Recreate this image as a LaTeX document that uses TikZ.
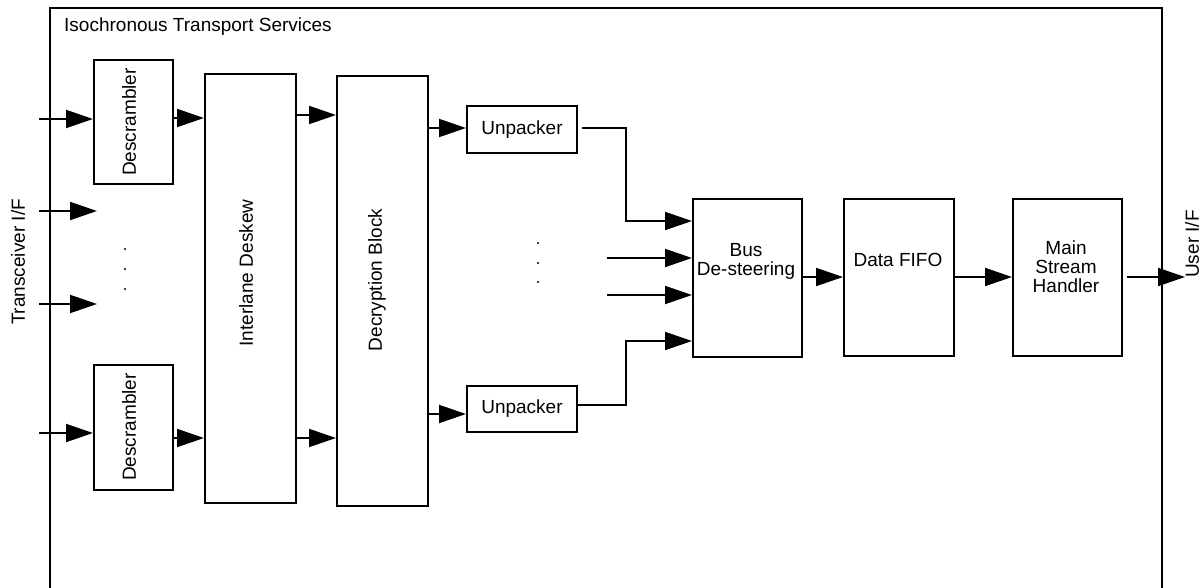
\documentclass[tikz,border=0pt]{standalone}
\usepackage{fontspec}
\setmainfont{Liberation Sans}
\usetikzlibrary{arrows.meta,calc}
\begin{document}
\begin{tikzpicture}[x=1pt,y=-1pt,
  blk/.style={draw=black, line width=1.9pt, inner sep=0pt, anchor=north west},
  lbl/.style={inner sep=0pt, font=\fontsize{19}{19}\selectfont, align=center},
  arr/.style={line width=1.9pt, -{Triangle[length=27pt,width=18pt]}},
  wire/.style={line width=1.9pt},
  dotmark/.style={fill=black, draw=none, circle, minimum size=2.4pt, inner sep=0pt}]

\useasboundingbox (0,0) rectangle (1201,588);

% enclosing service boundary (open at the bottom)
\draw[wire] (50,588) -- (50,8) -- (1162,8) -- (1162,588);
\node[lbl, anchor=west] (title) at (64,27) {Isochronous Transport Services};

% interface labels
\node[lbl, rotate=90] (tif) at (18,262) {Transceiver I/F};
\node[lbl, rotate=90] (uif) at (1192,244) {User I/F};

% processing blocks
\node[blk, minimum width=79pt, minimum height=124pt] (desA) at (93,59) {};
\node[blk, minimum width=79pt, minimum height=125pt] (desB) at (93,364) {};
\node[blk, minimum width=91pt, minimum height=429pt] (ild) at (204,73) {};
\node[blk, minimum width=91pt, minimum height=430pt] (dec) at (336,75) {};
\node[blk, minimum width=110pt, minimum height=47pt] (upA) at (466,105) {};
\node[blk, minimum width=110pt, minimum height=46pt] (upB) at (466,385) {};
\node[blk, minimum width=109pt, minimum height=158pt] (bus) at (692,198) {};
\node[blk, minimum width=110pt, minimum height=157pt] (fifo) at (843,198) {};
\node[blk, minimum width=109pt, minimum height=157pt] (msh) at (1012,198) {};

% block labels
\node[lbl, rotate=90] (desAt) at (129,122) {Descrambler};
\node[lbl, rotate=90] (desBt) at (129,427) {Descrambler};
\node[lbl, rotate=90] (ildt) at (246,273) {Interlane Deskew};
\node[lbl, rotate=90] (dect) at (377,280) {Decryption Block};
\node[lbl] (upAt) at (upA.center) {Unpacker};
\node[lbl] (upBt) at (upB.center) {Unpacker};
\node[lbl] (bust) at (746,261) {Bus\\De-steering};
\node[lbl] (fifot) at (898,260) {Data FIFO};
\node[lbl] (msht) at (1066,267) {Main\\Stream\\Handler};

% lane inputs
\coordinate (inA) at (39,119);
\coordinate (inB) at (39,211);
\coordinate (inBe) at (97,211);
\coordinate (inC) at (39,304);
\coordinate (inCe) at (97,304);
\coordinate (inD) at (39,433);
\draw[arr] (inA) -- (desA.west |- inA);
\draw[arr] (inB) -- (inBe);
\draw[arr] (inC) -- (inCe);
\draw[arr] (inD) -- (desB.west |- inD);

% ellipsis between the lanes
\node[dotmark] (ldA) at (125,249) {};
\node[dotmark] (ldB) at (125,269) {};
\node[dotmark] (ldC) at (125,289) {};
\node[dotmark] (mdA) at (538,243) {};
\node[dotmark] (mdB) at (538,263) {};
\node[dotmark] (mdC) at (538,282) {};

% descrambler -> deskew -> decryption
\draw[arr] (desA.east |- 0,118) -- (ild.west |- 0,118);
\draw[arr] (desB.east |- 0,438) -- (ild.west |- 0,438);
\draw[arr] (ild.east |- 0,115) -- (dec.west |- 0,115);
\draw[arr] (ild.east |- 0,438) -- (dec.west |- 0,438);

% decryption -> unpackers
\draw[arr] (dec.east |- 0,128) -- (upA.west |- 0,128);
\draw[arr] (dec.east |- 0,414) -- (upB.west |- 0,414);

% unpackers and other lanes -> bus de-steering
\draw[arr] ([xshift=4pt]upA.east |- 0,128) -- (626,128) |- (bus.west |- 0,221);
\coordinate (bA) at (607,258);
\coordinate (bB) at (607,295);
\draw[arr] (bA) -- (bus.west |- bA);
\draw[arr] (bB) -- (bus.west |- bB);
\draw[arr] (upB.east |- 0,405) -- (626,405) |- (bus.west |- 0,341);

% output chain
\draw[arr] (bus.east |- 0,277) -- (fifo.west |- 0,277);
\draw[arr] (fifo.east |- 0,277) -- (msh.west |- 0,277);
\coordinate (out) at (1185,277);
\draw[arr] ([xshift=4pt]msh.east |- 0,277) -- (out);

\end{tikzpicture}
\end{document}
